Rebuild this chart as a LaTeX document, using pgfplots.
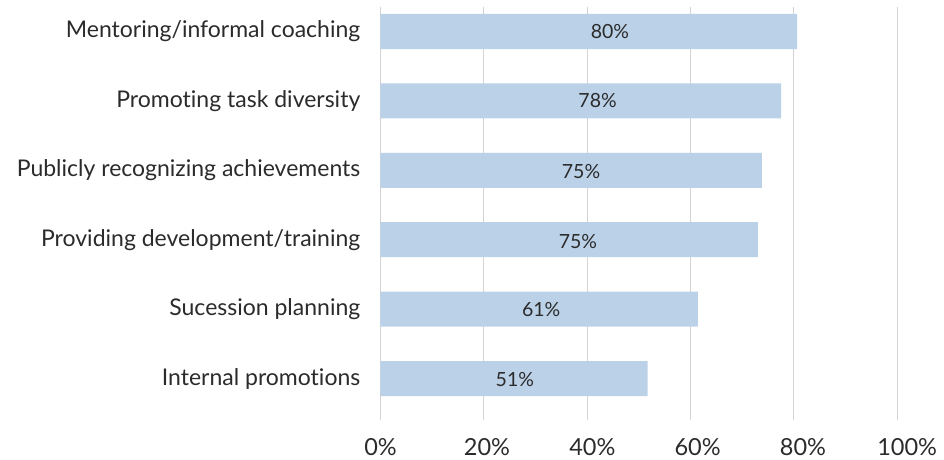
\documentclass[border=0pt]{standalone}
\usepackage{fontspec}
\setmainfont{Lato}[Ligatures=NoCommon]
\usepackage{pgfplots}
\pgfplotsset{compat=1.18}
\definecolor{barblue}{HTML}{BBD1E8}
\definecolor{gridgray}{HTML}{D3D3D3}
\definecolor{txt}{HTML}{2B2B2B}
\begin{document}
\begin{tikzpicture}
\path[use as bounding box] (-380.5pt,-39pt) rectangle (563.5pt,420pt);
\begin{axis}[
  at={(0,0)}, anchor=south west,
  scale only axis, width=526.9pt, height=413pt,
  xmin=0, xmax=101.95, ymin=-0.598, ymax=5.353,
  xtick={0,20.6,41.0,61.35,81.75,101.9},
  xticklabels={0\%,20\%,40\%,60\%,80\%,100\%},
  extra x ticks={0,20,40,60,80,100},
  extra x tick labels={},
  extra x tick style={grid=major, major tick length=0pt},
  ytick={0,1,2,3,4,5},
  yticklabels={{Internal promotions},{Sucession planning},{Providing development/training},{Publicly recognizing achievements},{Promoting task diversity},{Mentoring/informal coaching}},
  axis line style={draw=none},
  major tick length=0pt,
  major grid style={gridgray, line width=1pt},
  yticklabel style={font=\fontsize{23}{27}\selectfont, text=txt, anchor=east, inner sep=0pt, xshift=-20pt},
  xticklabel style={font=\fontsize{23.5}{27}\selectfont, text=txt, anchor=base, inner sep=0pt, yshift=-35pt},
  clip=false,
]
\addplot[xbar, bar width=35pt, fill=barblue, draw=none] coordinates {
  (51.7,0) (61.4,1) (73.0,2) (73.8,3) (77.5,4) (80.6,5)
};
\addplot[draw=none, mark=none,
  nodes near coords, point meta=explicit symbolic,
  every node near coord/.style={anchor=center, font=\fontsize{19.5}{22}\selectfont, text=txt, inner sep=0pt}]
  coordinates {
  (26.0,-0.02)[51\%] (31.1,0.99)[61\%] (38.2,1.98)[75\%] (38.8,2.98)[75\%] (42.0,4.0)[78\%] (44.4,5.0)[80\%]
};
\end{axis}
\end{tikzpicture}
\end{document}
